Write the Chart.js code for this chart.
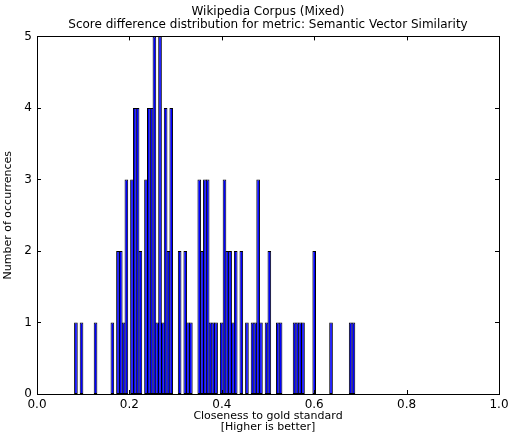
<!DOCTYPE html>
<html>
<head>
<meta charset="utf-8">
<script src="https://cdn.jsdelivr.net/npm/chart.js@4.4.1/dist/chart.umd.min.js"></script>
<style>
  html, body { margin: 0; padding: 0; background: #fff; }
  #wrap { width: 508px; height: 436px; }
</style>
</head>
<body>
<div id="wrap"><canvas id="histChart"></canvas></div>
<script>
// histogram: 100 equal bins between the lowest and highest score difference
const binLow = 0.0812;
const binHigh = 0.688;
const binCounts = [
  1, 0, 1, 0, 0, 0, 0, 1, 0, 0, 0, 0, 0, 1, 0, 2, 2, 1, 3, 0,
  3, 4, 4, 2, 0, 3, 4, 4, 5, 1, 5, 1, 4, 2, 4, 0, 0, 2, 0, 2,
  1, 1, 0, 0, 3, 2, 3, 3, 1, 1, 1, 0, 1, 3, 2, 2, 1, 2, 0, 2,
  0, 1, 0, 1, 1, 3, 1, 0, 1, 2, 0, 0, 1, 1, 0, 0, 0, 0, 1, 1,
  1, 1, 0, 0, 0, 2, 0, 0, 0, 0, 0, 1, 0, 0, 0, 0, 0, 0, 1, 1,
];
const xTicks = [0.0, 0.2, 0.4, 0.6, 0.8, 1.0];
const yTicks = [0, 1, 2, 3, 4, 5];

const titleLines = [
  "Wikipedia Corpus (Mixed)",
  "Score difference distribution for metric: Semantic Vector Similarity",
];
const xLabelLines = ["Closeness to gold standard", "[Higher is better]"];
const yLabel = "Number of occurrences";

const FONT = "'DejaVu Sans', 'Bitstream Vera Sans', sans-serif";

const binWidth = (binHigh - binLow) / binCounts.length;
const points = binCounts.map((c, i) => ({
  x: binLow + binWidth * (i + 0.5),
  y: c,
}));

// box around the axes plus inward tick marks on all four sides
const frameTicks = {
  id: "frameTicks",
  afterDatasetsDraw(chart) {
    const { ctx, chartArea: a, scales } = chart;
    const len = 4;
    ctx.save();
    ctx.strokeStyle = "#000";
    ctx.lineWidth = 1;
    ctx.beginPath();
    xTicks.forEach((v) => {
      const px = Math.round(scales.x.getPixelForValue(v)) + 0.5;
      ctx.moveTo(px, a.bottom);
      ctx.lineTo(px, a.bottom - len);
      ctx.moveTo(px, a.top);
      ctx.lineTo(px, a.top + len);
    });
    yTicks.forEach((v) => {
      const py = Math.round(scales.y.getPixelForValue(v)) + 0.5;
      ctx.moveTo(a.left, py);
      ctx.lineTo(a.left + len, py);
      ctx.moveTo(a.right, py);
      ctx.lineTo(a.right - len, py);
    });
    ctx.stroke();
    ctx.strokeRect(
      Math.round(a.left) + 0.5,
      Math.round(a.top) + 0.5,
      Math.round(a.right - a.left),
      Math.round(a.bottom - a.top)
    );
    ctx.restore();
  },
};

const ctx = document.getElementById("histChart").getContext("2d");
new Chart(ctx, {
  type: "bar",
  data: {
    datasets: [
      {
        data: points,
        backgroundColor: "#0000ff",
        borderColor: "#000000",
        borderWidth: 1,
        borderSkipped: false,
        // edges sit on the bin boundaries, so each bar spills a little over
        barPercentage: 1.3,
        categoryPercentage: 1,
        grouped: false,
      },
    ],
  },
  options: {
    responsive: true,
    maintainAspectRatio: false,
    animation: false,
    layout: { padding: { left: 0, right: 9, top: 0, bottom: 0 } },
    scales: {
      x: {
        type: "linear",
        min: 0,
        max: 1,
        offset: false,
        afterBuildTicks: (scale) => {
          scale.ticks = xTicks.map((v) => ({ value: v }));
        },
        afterFit: (scale) => {
          scale.height = 42;
          // let the "1.0" label hang into the right margin
          scale.paddingLeft = 0;
          scale.paddingRight = 0;
        },
        ticks: {
          color: "#000",
          padding: 4,
          maxRotation: 0,
          font: { family: FONT, size: 12 },
          callback: (v) => Number(v).toFixed(1),
        },
        grid: { display: false, drawTicks: false, offset: false },
        border: { display: false },
        title: {
          display: true,
          text: xLabelLines,
          color: "#000",
          font: { family: FONT, size: 11, lineHeight: 1.05 },
          padding: { top: 0, bottom: 3 },
        },
      },
      y: {
        type: "linear",
        min: 0,
        max: 5,
        afterBuildTicks: (scale) => {
          scale.ticks = yTicks.map((v) => ({ value: v }));
        },
        afterFit: (scale) => {
          scale.width = 37;
        },
        ticks: {
          color: "#000",
          padding: 5,
          font: { family: FONT, size: 12 },
        },
        grid: { display: false, drawTicks: false },
        border: { display: false },
        title: {
          display: true,
          text: yLabel,
          color: "#000",
          font: { family: FONT, size: 11 },
          padding: { top: 2, bottom: 0 },
        },
      },
    },
    plugins: {
      legend: { display: false },
      tooltip: { enabled: false },
      title: {
        display: true,
        fullSize: false,
        text: titleLines,
        color: "#000",
        font: { family: FONT, size: 12, weight: "normal", lineHeight: 1.1 },
        padding: { top: 5, bottom: 5 },
      },
    },
  },
  plugins: [frameTicks],
});
</script>
</body>
</html>
